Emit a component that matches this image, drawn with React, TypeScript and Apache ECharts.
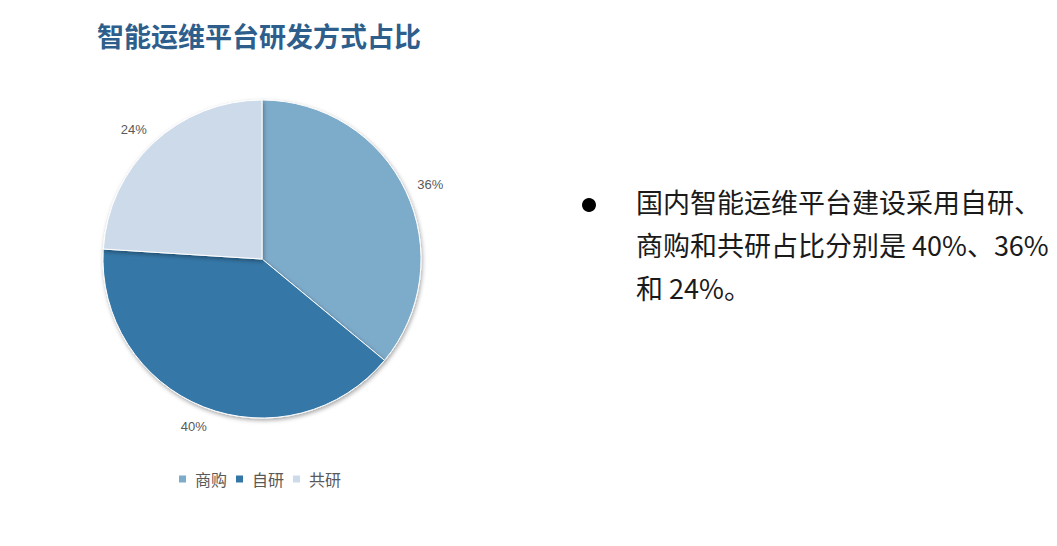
import React, { useEffect, useRef } from 'react';
import * as echarts from 'echarts';

const categories = ['商购', '自研', '共研'];
const shares = [36, 40, 24];
const colors = ['#7DABCA', '#3477A7', '#CDDAEA'];

const titleText = '智能运维平台研发方式占比';
const noteLines = ['国内智能运维平台建设采用自研、', '商购和共研占比分别是 40%、36%', '和 24%。'];

// per-slice label nudges so the percentages sit where the reference puts them
const labelLen = [17, 21, 18];
const labelGap = [-4, -11, -6];

const App: React.FC = () => {
  const chartRef = useRef<HTMLDivElement>(null);

  useEffect(() => {
    document.body.style.margin = '0';
    const chart = echarts.init(chartRef.current!, undefined, { renderer: 'svg' });

    const cjk = '"Noto Sans CJK SC", "Open Sans", sans-serif';

    const options = {
      animation: false,
      backgroundColor: '#ffffff',
      title: {
        text: titleText,
        left: 92,
        top: 17,
        textStyle: {
          fontFamily: cjk,
          fontSize: 27,
          fontWeight: 'bold',
          color: '#2D5E8C',
        },
      },
      legend: {
        data: categories,
        left: 172,
        top: 466,
        itemWidth: 9,
        itemHeight: 9,
        itemGap: 7,
        icon: 'rect',
        textStyle: { fontFamily: cjk, fontSize: 16, color: '#595959', padding: [0, 0, 0, 3] },
      },
      series: [
        {
          type: 'pie',
          center: [262, 259],
          radius: 159,
          startAngle: 90,
          clockwise: true,
          avoidLabelOverlap: false,
          itemStyle: {
            borderColor: '#ffffff',
            borderWidth: 1,
            shadowBlur: 4,
            shadowOffsetY: 2,
            shadowOffsetX: 1,
            shadowColor: 'rgba(0,0,0,0.35)',
          },
          label: {
            show: true,
            position: 'outside',
            formatter: '{c}%',
            fontFamily: '"Liberation Sans", sans-serif',
            fontSize: 13,
            color: '#595959',
          },
          labelLine: { show: false, length2: 0 },
          emphasis: { disabled: true },
          data: categories.map((name, i) => ({
            name,
            value: shares[i],
            itemStyle: { color: colors[i] },
            label: { distanceToLabelLine: labelGap[i] },
            labelLine: { show: false, length: labelLen[i], length2: 0 },
          })),
        },
      ],
      graphic: [
        {
          type: 'circle',
          shape: { cx: 589, cy: 205, r: 7 },
          style: { fill: '#000000' },
        },
        ...noteLines.map((line, i) => ({
          type: 'text',
          left: 636,
          top: 188 + i * 43,
          style: {
            text: line,
            fontFamily: cjk,
            fontSize: 27,
            fill: '#1a1a1a',
          },
        })),
      ],
    };

    chart.setOption(options as any);

    return () => {
      chart.dispose();
    };
  }, []);

  return <div ref={chartRef} style={{ width: '1057px', height: '546px' }} />;
};

export default App;
